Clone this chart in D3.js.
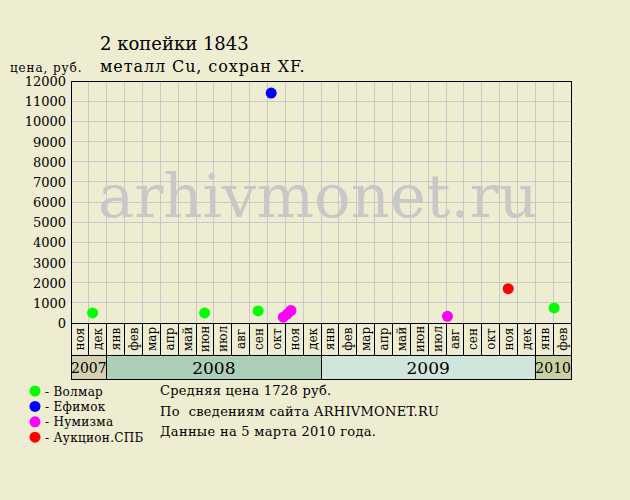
<!DOCTYPE html>
<html><head><meta charset="utf-8">
<script src="https://cdn.jsdelivr.net/npm/d3@7"></script>
<style>
html,body{margin:0;padding:0;background:#efedd1;}
svg{display:block;}
text{font-family:"DejaVu Serif",serif;fill:#000;}
</style></head>
<body>
<script>
const monthLabels = ["ноя","дек","янв","фев","мар","апр","май","июн","июл","авг","сен","окт","ноя","дек","янв","фев","мар","апр","май","июн","июл","авг","сен","окт","ноя","дек","янв","фев"];
const yearLabels = ["2007","2008","2009","2010"];
const yearMonthCounts = [2, 12, 12, 2];
const yearColors = ["#d4d0b0","#aecfb7","#d0e5dc","#c9d1a0"];
const yTicks = [0,1000,2000,3000,4000,5000,6000,7000,8000,9000,10000,11000,12000];
const sellers = ["Волмар","Ефимок","Нумизма","Аукцион.СПБ"];
const sellerColors = ["#00ff00","#0000ff","#ff00ff","#ff0000"];
const pointDates = ["2007-12-07","2008-06-15","2008-09-15","2010-02-02","2008-10-07","2008-10-28","2008-11-04","2008-11-10","2009-08-03","2009-11-15"];
const pointPrices = [500,500,600,750,11400,290,450,620,330,1700];
const pointSellers = [0,0,0,0,1,2,2,2,2,3];
const titleLines = ["2 копейки 1843","металл Cu, сохран XF."];
const infoLines = ["Средняя цена 1728 руб.","По  сведениям сайта ARHIVMONET.RU","Данные на 5 марта 2010 года."];

const W=630,H=500;
const svg=d3.select("body").append("svg").attr("width",W).attr("height",H);
const L=71,R=571,T=81,B=323;
const x=d3.scaleLinear().domain([0,monthLabels.length]).range([L,R]);
const y=d3.scaleLinear().domain([0,12000]).range([B,T]);

function monthPos(s){
  const [yy,mm,dd]=s.split("-").map(Number);
  const idx=(yy-2007)*12+(mm-1)-10;
  const dim=new Date(yy,mm,0).getDate();
  return idx+(dd-0.5)/dim;
}

// grid
const g=svg.append("g");
g.selectAll("line.v").data(d3.range(1,monthLabels.length)).join("line")
 .attr("x1",d=>x(d)).attr("x2",d=>x(d)).attr("y1",T).attr("y2",B)
 .attr("stroke","#c8c8c8").attr("stroke-width",1).attr("shape-rendering","crispEdges");
g.selectAll("line.h").data(yTicks.slice(1,-1)).join("line")
 .attr("x1",L).attr("x2",R).attr("y1",d=>y(d)).attr("y2",d=>y(d))
 .attr("stroke","#c8c8c8").attr("stroke-width",1).attr("shape-rendering","crispEdges");

// watermark
svg.append("text").attr("x",318).attr("y",217).attr("text-anchor","middle")
 .attr("font-size",60).attr("textLength",440).attr("lengthAdjust","spacingAndGlyphs")
 .style("fill","#c8c8c8").text("arhivmonet.ru");

// frame
svg.append("rect").attr("x",L).attr("y",T).attr("width",R-L).attr("height",B-T)
 .attr("fill","none").attr("stroke","#000").attr("shape-rendering","crispEdges");

// y labels
svg.selectAll("text.yt").data(yTicks).join("text")
 .attr("x",66).attr("y",d=>y(d)+5).attr("text-anchor","end").attr("font-size",13).text(d=>d);

// month cells
const mRowB=355, yRowB=379;
svg.selectAll("rect.m").data(monthLabels).join("rect")
 .attr("x",(d,i)=>x(i)).attr("y",B).attr("width",x(1)-x(0)).attr("height",mRowB-B)
 .attr("fill","none").attr("stroke","#000").attr("shape-rendering","crispEdges");
svg.selectAll("text.m").data(monthLabels).join("text")
 .attr("transform",(d,i)=>`translate(${x(i+0.5)+4.5},${(B+mRowB)/2}) rotate(-90)`)
 .attr("text-anchor","middle").attr("font-size",12).text(d=>d);

// year cells
let start=0;
const ys=yearLabels.map((lab,i)=>{const o={lab,s:start,n:yearMonthCounts[i],c:yearColors[i]};start+=yearMonthCounts[i];return o;});
svg.selectAll("rect.y").data(ys).join("rect")
 .attr("x",d=>x(d.s)).attr("y",mRowB).attr("width",d=>x(d.s+d.n)-x(d.s)).attr("height",yRowB-mRowB)
 .attr("fill",d=>d.c).attr("stroke","#000").attr("shape-rendering","crispEdges");
svg.selectAll("text.y").data(ys).join("text")
 .attr("x",d=>x(d.s+d.n/2)).attr("y",d=>d.n>2?374:373).attr("text-anchor","middle")
 .attr("font-size",d=>d.n>2?17:14).text(d=>d.lab);

// points
svg.selectAll("circle.p").data(pointDates).join("circle")
 .attr("cx",(d)=>x(monthPos(d))).attr("cy",(d,i)=>y(pointPrices[i])).attr("r",5.5)
 .attr("fill",(d,i)=>sellerColors[pointSellers[i]]);

// titles
svg.append("text").attr("x",100).attr("y",50).attr("font-size",18).text(titleLines[0]);
svg.append("text").attr("x",100).attr("y",72).attr("font-size",16).attr("letter-spacing",0.9).text(titleLines[1]);
svg.append("text").attr("x",10).attr("y",72).attr("font-size",12).attr("letter-spacing",0.9).text("цена, руб.");

// legend
sellers.forEach((s,i)=>{
  svg.append("circle").attr("cx",35).attr("cy",391+i*15.4).attr("r",5.5).attr("fill",sellerColors[i]);
  svg.append("text").attr("x",45).attr("y",395.5+i*15.4).attr("font-size",12).attr("letter-spacing",0.3).text("- "+s);
});
infoLines.forEach((t,i)=>{
  svg.append("text").attr("x",160).attr("y",395+i*20.5).attr("font-size",13).attr("letter-spacing",0.3).style("white-space","pre").text(t);
});
</script>
</body></html>
